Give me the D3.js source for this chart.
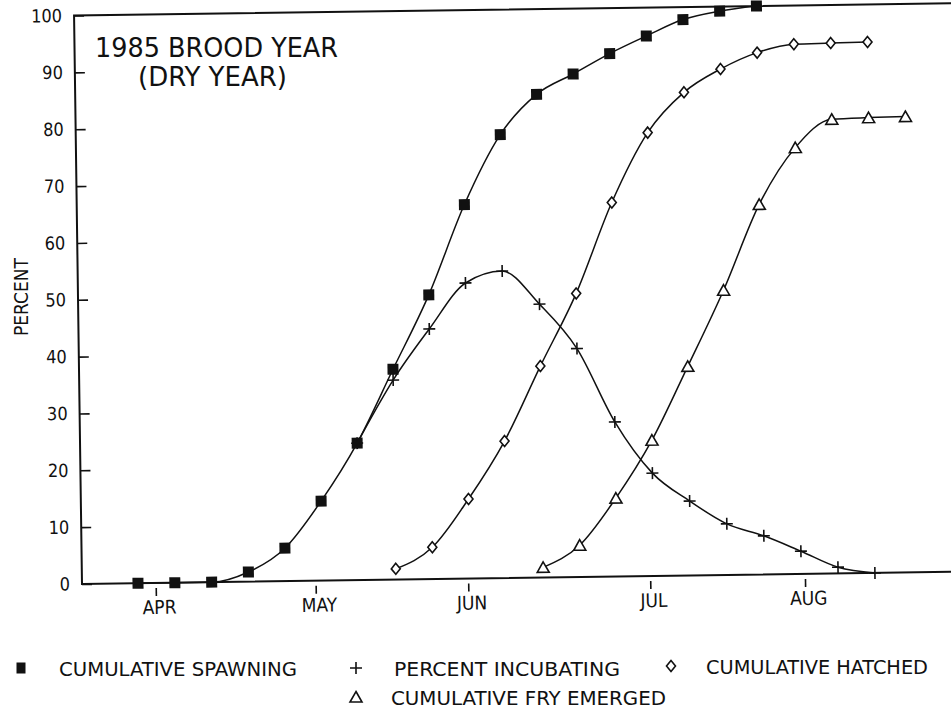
<!DOCTYPE html>
<html><head><meta charset="utf-8">
<script src="https://cdn.jsdelivr.net/npm/d3@7"></script>
<style>
body{margin:0;background:#fff;}
svg{display:block;}
text{font-family:"DejaVu Sans Condensed","DejaVu Sans",sans-serif;fill:#111;}
</style></head>
<body>
<svg id="c" width="951" height="717"></svg>
<script>
// week index (weekly sampling)
const weeks = d3.range(22);
const spawning   = [0,0,0,1.7,5.8,14.0,24.1,37.0,50.0,65.8,78.0,85.0,88.5,92.0,95.0,97.8,99.2,100.0,null,null,null,null];
const incubating = [null,null,null,null,null,null,24.1,35.1,44.0,52.0,54.0,48.1,40.2,27.2,18.1,13.1,9.0,6.8,4.0,1.1,0.0,null];
const hatched    = [null,null,null,null,null,null,null,1.9,5.6,14.0,24.1,37.2,49.9,65.8,78.0,85.0,89.0,91.8,93.2,93.3,93.4,null];
const fry        = [null,null,null,null,null,null,null,null,null,null,null,1.8,5.6,13.8,23.9,36.8,50.1,65.1,75.0,79.9,80.1,80.2];
const monthPos   = [0.48,4.82,8.96,13.90,18.10];
const monthLabels= ["APR","MAY","JUN","JUL","AUG"];
const yTicks     = [0,10,20,30,40,50,60,70,80,90,100];
const legendLabels = ["CUMULATIVE SPAWNING","PERCENT INCUBATING","CUMULATIVE HATCHED","CUMULATIVE FRY EMERGED"];

const svg = d3.select("#c");
const L = 82, B = 584, T = 15.5, R = 972;
const step = 36.85, x0 = 138;
const x = d3.scaleLinear().domain([(L-x0)/step, (R-x0)/step]).range([L, R]);
const y = d3.scaleLinear().domain([0,100]).range([B, T]);

const g = svg.append("g").attr("transform", `rotate(-0.8,${L},${B})`);

// frame
g.append("rect").attr("x",L).attr("y",T).attr("width",R-L).attr("height",B-T)
  .attr("fill","none").attr("stroke","#111").attr("stroke-width",2);

// y axis
const ya = g.append("g").attr("transform",`translate(${L},0)`)
  .call(d3.axisLeft(y).tickValues(yTicks).tickSize(-10).tickSizeOuter(0).tickPadding(12).tickFormat(d3.format("d")));
ya.select(".domain").remove();
ya.selectAll("line").attr("stroke","#111").attr("stroke-width",1.6);
ya.selectAll("text").attr("font-size",18).attr("fill","#111").style("font-family",null);

// x axis
const xa = g.append("g").attr("transform",`translate(0,${B})`)
  .call(d3.axisBottom(x).tickValues(monthPos).tickSize(0).tickFormat((d,i)=>monthLabels[i]));
xa.select(".domain").remove();
xa.selectAll(".tick line").attr("y1",5).attr("y2",13).attr("stroke","#111").attr("stroke-width",1.6);
xa.selectAll("text").attr("y",31).attr("dy",0).attr("x",3).attr("font-size",19).attr("fill","#111");

// lines
const series = [
  {v:spawning, m:"square"},
  {v:incubating, m:"plus"},
  {v:hatched, m:"diamond"},
  {v:fry, m:"triangle"}
];
const line = d3.line().defined(d=>d[1]!=null).x(d=>x(d[0])).y(d=>y(d[1])).curve(d3.curveMonotoneX);

function marker(sel, type){
  if(type==="square"){
    sel.append("rect").attr("x",-5.5).attr("y",-5.5).attr("width",11).attr("height",11).attr("fill","#111");
  } else if(type==="plus"){
    sel.append("path").attr("d","M-6,0H6M0,-6V6").attr("stroke","#111").attr("stroke-width",1.6).attr("fill","none");
  } else if(type==="diamond"){
    sel.append("path").attr("d","M0,-5.5L4.5,0L0,5.5L-4.5,0Z").attr("stroke","#111").attr("stroke-width",1.6).attr("fill","#fff");
  } else {
    sel.append("path").attr("d","M0,-5.5L6,5L-6,5Z").attr("stroke","#111").attr("stroke-width",1.6).attr("fill","#fff");
  }
}

series.forEach(s=>{
  const pts = weeks.map((w,i)=>[w,s.v[i]]);
  g.append("path").datum(pts).attr("d",line).attr("fill","none").attr("stroke","#111").attr("stroke-width",1.5);
});
series.forEach(s=>{
  const pts = weeks.map((w,i)=>[w,s.v[i]]).filter(d=>d[1]!=null);
  g.selectAll(null).data(pts).enter().append("g")
    .attr("transform",d=>`translate(${x(d[0])},${y(d[1])})`)
    .each(function(){ marker(d3.select(this), s.m); });
});

// title
svg.append("text").attr("x",95).attr("y",57).attr("font-size",27).attr("textLength",243).attr("lengthAdjust","spacingAndGlyphs").text("1985 BROOD YEAR");
svg.append("text").attr("x",138).attr("y",86).attr("font-size",27).attr("textLength",149).attr("lengthAdjust","spacingAndGlyphs").text("(DRY YEAR)");

// y label
svg.append("text").attr("transform","translate(28,297) rotate(-90)").attr("text-anchor","middle").attr("font-size",19).text("PERCENT");

// legend
const leg = [
  {m:"square", mx:21, my:668, tx:59, ty:676, tl:238},
  {m:"plus", mx:356, my:668, tx:394, ty:676, tl:226},
  {m:"diamond", mx:671, my:666, tx:706, ty:674, tl:222},
  {m:"triangle", mx:356, my:697, tx:391, ty:705, tl:275}
];
leg.forEach((d,i)=>{
  const mg = svg.append("g").attr("transform",`translate(${d.mx},${d.my})`);
  if(d.m==="square"){
    mg.append("rect").attr("x",-4.5).attr("y",-5.5).attr("width",9).attr("height",11).attr("fill","#111");
  } else marker(mg, d.m);
  svg.append("text").attr("x",d.tx).attr("y",d.ty).attr("font-size",19).attr("textLength",d.tl).attr("lengthAdjust","spacingAndGlyphs").text(legendLabels[i]);
});
</script>
</body></html>
